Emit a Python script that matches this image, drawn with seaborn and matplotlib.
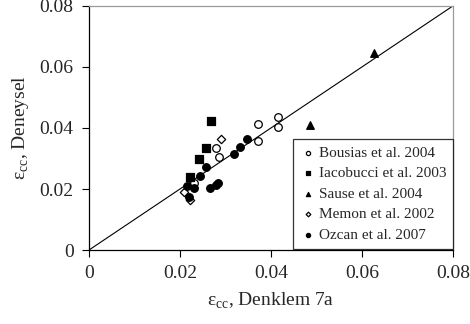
import numpy as np
import pandas as pd
import seaborn as sns
import matplotlib.pyplot as plt

sns.set_theme(style="white")
plt.rcParams['font.family'] = ['Liberation Serif', 'DejaVu Serif']
plt.rcParams['mathtext.fontset'] = 'custom'
plt.rcParams['mathtext.rm'] = 'Liberation Serif'

# Bousias et al. 2004 (open circles)
bousias_x = [0.0371, 0.0415, 0.0415, 0.0371, 0.0280, 0.0285, 0.0232]
bousias_y = [0.0414, 0.0437, 0.0404, 0.0358, 0.0335, 0.0304, 0.0219]

# Iacobucci et al. 2003 (filled squares)
iacobucci_x = [0.0269, 0.0258, 0.0242, 0.0223]
iacobucci_y = [0.0424, 0.0334, 0.0298, 0.0238]

# Sause et al. 2004 (filled triangles)
sause_x = [0.0627, 0.0486]
sause_y = [0.0647, 0.0410]

# Memon et al. 2002 (open diamonds)
memon_x = [0.0290, 0.0210, 0.0222]
memon_y = [0.0365, 0.0191, 0.0164]

# Ozcan et al. 2007 (filled circles)
ozcan_x = [0.0347, 0.0331, 0.0318, 0.0257, 0.0245, 0.0215, 0.0232, 0.0219, 0.0267, 0.0279, 0.0283]
ozcan_y = [0.0364, 0.0338, 0.0315, 0.0271, 0.0242, 0.0210, 0.0202, 0.0173, 0.0203, 0.0214, 0.0219]

series = [
    ("Bousias et al. 2004", bousias_x, bousias_y, "o", "white", 30),
    ("Iacobucci et al. 2003", iacobucci_x, iacobucci_y, "s", "black", 28),
    ("Sause et al. 2004", sause_x, sause_y, "^", "black", 30),
    ("Memon et al. 2002", memon_x, memon_y, "D", "white", 18),
    ("Ozcan et al. 2007", ozcan_x, ozcan_y, "o", "black", 30),
]

fig, ax = plt.subplots(figsize=(4.7, 3.24), dpi=100)
fig.subplots_adjust(left=0.189, right=0.964, top=0.982, bottom=0.228)

# 1:1 line
ax.plot([0, 0.08], [0, 0.08], color="black", lw=0.8, zorder=1)

for name, xs, ys, mk, fc, s in series:
    df = pd.DataFrame({"x": xs, "y": ys})
    sns.scatterplot(data=df, x="x", y="y", marker=mk, s=s, facecolor=fc,
                    edgecolor="black", linewidth=0.9, label=name, ax=ax, zorder=3)

ax.set_xlim(0, 0.08)
ax.set_ylim(0, 0.08)
ticks = [0, 0.02, 0.04, 0.06, 0.08]
tick_labels = ["0", "0.02", "0.04", "0.06", "0.08"]
ax.set_xticks(ticks)
ax.set_xticklabels(tick_labels)
ax.set_yticks(ticks)
ax.set_yticklabels(tick_labels)
ax.tick_params(axis="both", direction="out", length=5, width=0.8, color="black",
               labelsize=14, bottom=True, left=True, pad=6)

for side in ["left", "bottom"]:
    ax.spines[side].set_color("black")
    ax.spines[side].set_linewidth(0.9)
for side in ["top", "right"]:
    ax.spines[side].set_color("#9a9a9a")
    ax.spines[side].set_linewidth(0.9)

ax.set_xlabel(r"ε$_\mathrm{cc}$, Denklem 7a", fontsize=14, labelpad=6)
ax.set_ylabel(r"ε$_\mathrm{cc}$, Deneysel", fontsize=14, labelpad=6)

leg = ax.legend(loc="lower right", bbox_to_anchor=(1.0, 0.005), fontsize=11,
                frameon=True, fancybox=False, edgecolor="black", markerscale=0.55,
                handletextpad=0.2, labelspacing=0.45, borderpad=0.45,
                handlelength=1.0, borderaxespad=0.0)
leg.get_frame().set_linewidth(0.9)

fig.savefig("out.png", dpi=100)
